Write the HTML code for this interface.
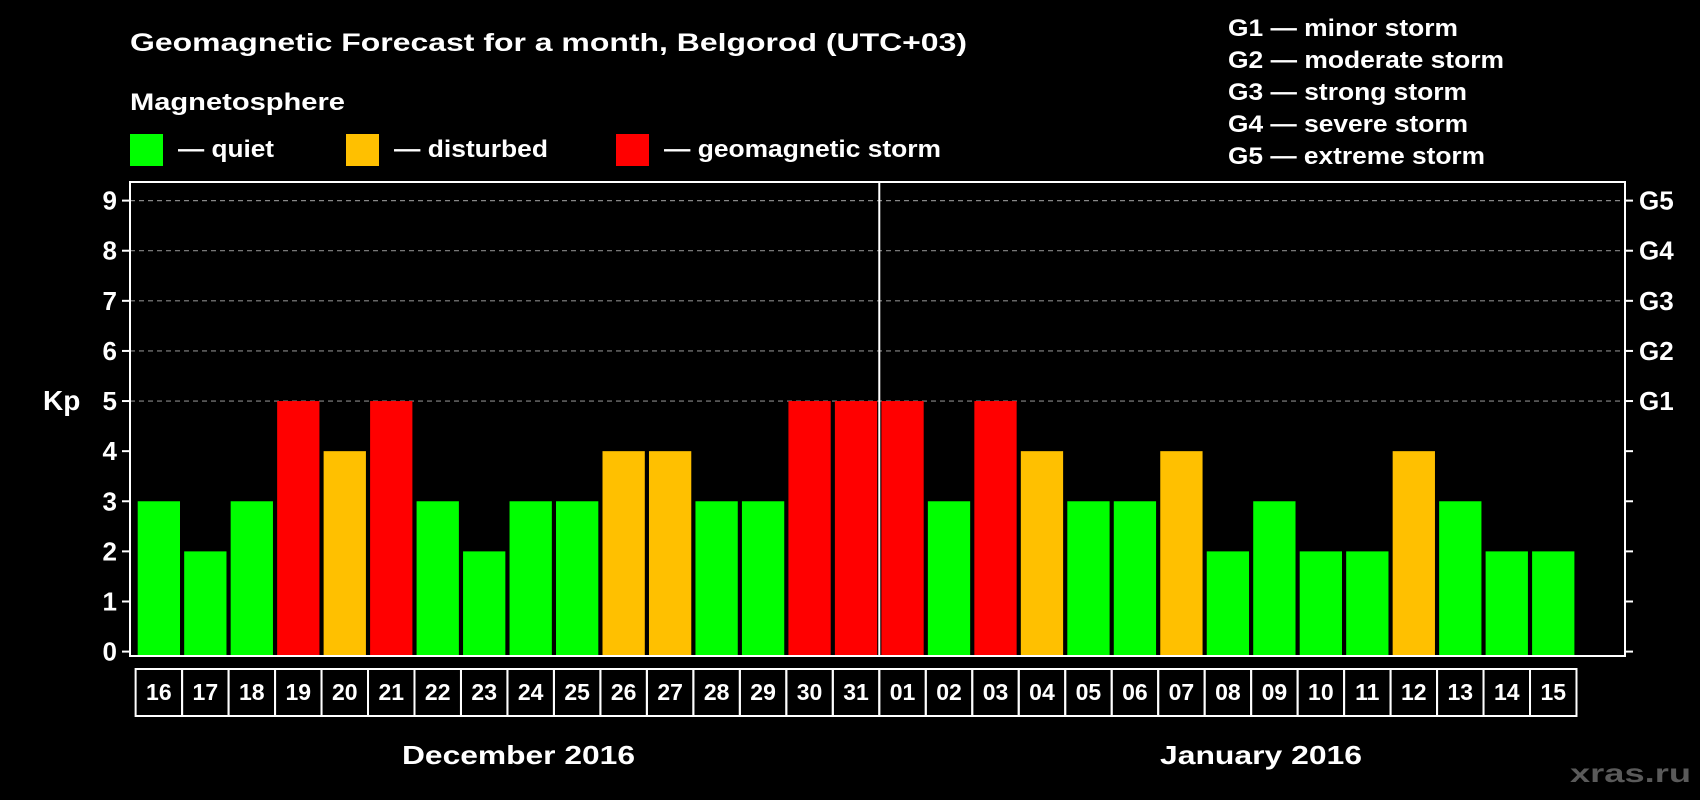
<!DOCTYPE html>
<html><head><meta charset="utf-8"><style>
html,body{margin:0;padding:0;background:#000;}
svg{display:block;font-family:"Liberation Sans",sans-serif;font-weight:bold;}
</style></head><body>
<svg id="chart" width="1700" height="800" viewBox="0 0 1700 800">
<rect width="1700" height="800" fill="#000"/>
<text x="130" y="51" font-size="25" fill="#fff" textLength="837" lengthAdjust="spacingAndGlyphs">Geomagnetic Forecast for a month, Belgorod (UTC+03)</text>
<text x="130" y="110" font-size="24" fill="#fff" textLength="215" lengthAdjust="spacingAndGlyphs">Magnetosphere</text>
<rect x="130" y="134" width="33" height="32" fill="#00ff00"/>
<text x="178" y="157" font-size="24" fill="#fff" textLength="96" lengthAdjust="spacingAndGlyphs">— quiet</text>
<rect x="346" y="134" width="33" height="32" fill="#ffc000"/>
<text x="394" y="157" font-size="24" fill="#fff" textLength="154" lengthAdjust="spacingAndGlyphs">— disturbed</text>
<rect x="616" y="134" width="33" height="32" fill="#ff0000"/>
<text x="664" y="157" font-size="24" fill="#fff" textLength="277" lengthAdjust="spacingAndGlyphs">— geomagnetic storm</text>
<g font-size="24" fill="#fff">
<text x="1228" y="36" textLength="230" lengthAdjust="spacingAndGlyphs">G1 — minor storm</text>
<text x="1228" y="68" textLength="276" lengthAdjust="spacingAndGlyphs">G2 — moderate storm</text>
<text x="1228" y="100" textLength="239" lengthAdjust="spacingAndGlyphs">G3 — strong storm</text>
<text x="1228" y="132" textLength="240" lengthAdjust="spacingAndGlyphs">G4 — severe storm</text>
<text x="1228" y="164" textLength="257" lengthAdjust="spacingAndGlyphs">G5 — extreme storm</text>
</g>
<text x="43" y="410" font-size="28" fill="#fff">Kp</text>
<text x="402" y="764" font-size="26" fill="#fff" textLength="233" lengthAdjust="spacingAndGlyphs">December 2016</text>
<text x="1160" y="764" font-size="26" fill="#fff" textLength="202" lengthAdjust="spacingAndGlyphs">January 2016</text>
<text x="1570" y="782" font-size="26" fill="#5a5a5a" textLength="121" lengthAdjust="spacingAndGlyphs">xras.ru</text>
<g id="plot"></g>
</svg>
<script>
const days = ["16","17","18","19","20","21","22","23","24","25","26","27","28","29","30","31","01","02","03","04","05","06","07","08","09","10","11","12","13","14","15"];
const kpValues = [3,2,3,5,4,5,3,2,3,3,4,4,3,3,5,5,5,3,5,4,3,3,4,2,3,2,2,4,3,2,2];
const yTicks = [0,1,2,3,4,5,6,7,8,9];
const gLabels = ["G1","G2","G3","G4","G5"];
const gLevels = [5,6,7,8,9];

const NS="http://www.w3.org/2000/svg";
const plot=document.getElementById('plot');
const L=130,R=1625,T=182,B=656,y0=651.6,y9=200.6;
const firstX=137.7,step=46.48,bw=42.3;
const y=v=>y0+(y9-y0)*v/9;
const xi=i=>firstX+i*step;
function mk(tag,attrs){const e=document.createElementNS(NS,tag);for(const k in attrs)e.setAttribute(k,attrs[k]);plot.appendChild(e);return e;}

yTicks.forEach(v=>{
  if(v>=5){const g=mk('line',{x1:L,x2:R,y1:y(v),y2:y(v),stroke:'#888','stroke-width':1.2,'stroke-dasharray':'5,4'});
  
  }
  const t=mk('line',{x1:L-8,x2:L,y1:y(v),y2:y(v),stroke:'#fff','stroke-width':2});
  
  
  const t2=mk('line',{x1:R,x2:R+8,y1:y(v),y2:y(v),stroke:'#fff','stroke-width':2});
  
  
  const lb=mk('text',{x:117,y:y(v)+9,'font-size':26,fill:'#fff','text-anchor':'end'});
  lb.textContent=v;
  
  
});
gLabels.forEach((g,i)=>{
  const lb=mk('text',{x:1639,y:y(gLevels[i])+9,'font-size':26,fill:'#fff'});
  lb.textContent=g;
  
  
});
kpValues.forEach((v,i)=>{
  const c=v>=5?'#ff0000':(v>=4?'#ffc000':'#00ff00');
  const r=mk('rect',{x:xi(i),y:y(v),width:bw,height:B-y(v),fill:c});
  
  
  const cx=xi(i)+bw/2;
  const cell=mk('rect',{x:cx-step/2,y:669,width:step,height:47,fill:'none',stroke:'#fff','stroke-width':2});
  
  
  const t=mk('text',{x:cx,y:700,'font-size':23,fill:'#fff','text-anchor':'middle'});
  t.textContent=days[i];
  
  
});
const fr=mk('rect',{x:L,y:T,width:R-L,height:B-T,fill:'none',stroke:'#fff','stroke-width':2});


const dx=(xi(15)+bw+xi(16))/2;
const dv=mk('line',{x1:dx,x2:dx,y1:T,y2:B,stroke:'#fff','stroke-width':2});


</script>
</body></html>
